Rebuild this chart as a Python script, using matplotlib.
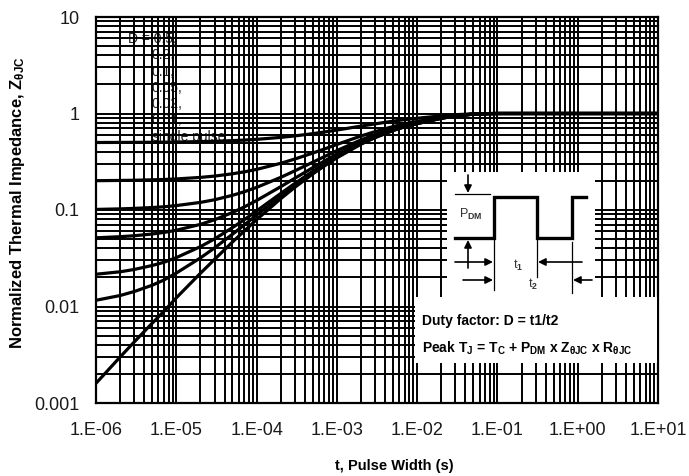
import matplotlib
matplotlib.use("Agg")
import matplotlib.pyplot as plt
from matplotlib.patches import Rectangle
from matplotlib.ticker import LogLocator, NullFormatter

plt.rcParams['font.family'] = ['Liberation Sans', 'DejaVu Sans']
plt.rcParams['mathtext.fontset'] = 'custom'
plt.rcParams['mathtext.rm'] = 'Liberation Sans'
plt.rcParams['mathtext.bf'] = 'Liberation Sans:bold'
plt.rcParams['mathtext.it'] = 'Liberation Sans:italic'
plt.rcParams['mathtext.default'] = 'bf'

# ---- data -------------------------------------------------------------
pulse_width = [1e-6, 2e-6, 3e-6, 5e-6, 7e-6,
               1e-5, 2e-5, 3e-5, 5e-5, 7e-5,
               1e-4, 2e-4, 3e-4, 5e-4, 7e-4,
               1e-3, 2e-3, 3e-3, 5e-3, 7e-3,
               1e-2, 2e-2, 3e-2, 5e-2, 7e-2,
               1e-1, 1e0, 1e1]

z_d050 = [0.5008, 0.5015, 0.5022, 0.5034, 0.5045, 0.5062, 0.511, 0.5154, 0.5233, 0.5302,
          0.5397, 0.5655, 0.586, 0.618, 0.643, 0.6735, 0.7405, 0.781, 0.8325, 0.864,
          0.8925, 0.9455, 0.972, 0.992, 0.9975, 1.0, 1.0, 1.0]
z_d020 = [0.2013, 0.2024, 0.2034, 0.2054, 0.2071, 0.2098, 0.2177, 0.2246, 0.2372, 0.2483,
          0.2635, 0.3048, 0.3376, 0.3888, 0.4288, 0.4776, 0.5848, 0.6496, 0.732, 0.7824,
          0.828, 0.9128, 0.9552, 0.9872, 0.996, 1.0, 1.0, 1.0]
z_d010 = [0.1014, 0.1027, 0.1039, 0.106, 0.108, 0.1111, 0.1199, 0.1277, 0.1419, 0.1544,
          0.1715, 0.2179, 0.2548, 0.3124, 0.3574, 0.4123, 0.5329, 0.6058, 0.6985, 0.7552,
          0.8065, 0.9019, 0.9496, 0.9856, 0.9955, 1.0, 1.0, 1.0]
z_d005 = [0.0515, 0.0529, 0.0541, 0.0564, 0.0585, 0.0617, 0.071, 0.0793, 0.0942, 0.1074,
          0.1254, 0.1745, 0.2134, 0.2742, 0.3217, 0.3797, 0.507, 0.5839, 0.6818, 0.7416,
          0.7958, 0.8965, 0.9468, 0.9848, 0.9953, 1.0, 1.0, 1.0]
z_d002 = [0.0216, 0.0229, 0.0242, 0.0266, 0.0287, 0.0321, 0.0417, 0.0502, 0.0656, 0.0792,
          0.0978, 0.1484, 0.1886, 0.2513, 0.3003, 0.3601, 0.4914, 0.5708, 0.6717, 0.7334,
          0.7893, 0.8932, 0.9451, 0.9843, 0.9951, 1.0, 1.0, 1.0]
z_d001 = [0.0116, 0.013, 0.0143, 0.0166, 0.0188, 0.0222, 0.0319, 0.0405, 0.056, 0.0698,
          0.0886, 0.1397, 0.1803, 0.2436, 0.2931, 0.3535, 0.4862, 0.5664, 0.6684, 0.7307,
          0.7872, 0.8921, 0.9446, 0.9842, 0.9951, 1.0, 1.0, 1.0]
z_single = [0.0016, 0.0030, 0.0043, 0.0067, 0.0089, 0.0123, 0.0221, 0.0308, 0.0465, 0.0604,
            0.0794, 0.131, 0.172, 0.236, 0.286, 0.347, 0.481, 0.562, 0.665, 0.728,
            0.785, 0.891, 0.944, 0.984, 0.995, 1.0, 1.0, 1.0]

curves = [z_d050, z_d020, z_d010, z_d005, z_d002, z_d001, z_single]
duty_labels = ["D = 0.5,", "0.2,", "0.1,", "0.05,", "0.02,", "0.01,", "single pulse"]

x_tick_values = [1e-6, 1e-5, 1e-4, 1e-3, 1e-2, 1e-1, 1e0, 1e1]
x_tick_labels = ["1.E-06", "1.E-05", "1.E-04", "1.E-03", "1.E-02", "1.E-01", "1.E+00", "1.E+01"]
y_tick_values = [1e-3, 1e-2, 1e-1, 1e0, 1e1]
y_tick_labels = ["0.001", "0.01", "0.1", "1", "10"]

# ---- figure -----------------------------------------------------------
W, H = 689, 476
fig = plt.figure(figsize=(W / 100, H / 100), dpi=100)
fig.patch.set_facecolor('white')


def fx(px):
    return px / W


def fy(py):
    return 1 - py / H


ax = fig.add_axes([fx(96), fy(403), (658 - 96) / W, (403 - 17) / H])
ax.set_xscale('log')
ax.set_yscale('log')
ax.set_xlim(1e-6, 1e1)
ax.set_ylim(1e-3, 1e1)

for z in curves:
    ax.plot(pulse_width, z, color='black', lw=2.3, zorder=3,
            solid_joinstyle='round', solid_capstyle='butt')

ax.set_xticks(x_tick_values)
ax.set_xticklabels(x_tick_labels)
ax.set_yticks(y_tick_values)
ax.set_yticklabels(y_tick_labels)
for axis in (ax.xaxis, ax.yaxis):
    axis.set_minor_locator(LogLocator(base=10, subs=range(2, 10), numticks=100))
    axis.set_minor_formatter(NullFormatter())

ax.set_axisbelow(False)
ax.grid(True, which='both', color='black', lw=1.4)
ax.tick_params(which='both', length=0, labelsize=13, colors='#1a1a1a')
ax.tick_params(axis='x', pad=14)
ax.tick_params(axis='y', pad=12)
for sp in ax.spines.values():
    sp.set_color('black')
    sp.set_linewidth(1.6)

# duty-cycle labels, sitting under the grid
label_x = [128, 152, 152, 152, 152, 152, 152]
for i, (lab, lx) in enumerate(zip(duty_labels, label_x)):
    ax.text(fx(lx), fy(39 + 16.3 * i), lab, transform=fig.transFigure,
            fontsize=10, color='#222222', ha='left', va='center', zorder=1)

fig.text(fx(394), fy(466), "t, Pulse Width (s)", fontsize=10.5,
         fontweight='bold', ha='center', va='center')
fig.text(fx(18), fy(203), r"Normalized Thermal Impedance, Z$_{\theta JC}$",
         fontsize=12, fontweight='bold', rotation=90, ha='center', va='center')

# ---- pulse diagram overlay (pixel coordinates) -------------------------
ov = fig.add_axes([0, 0, 1, 1], zorder=5)
ov.set_xlim(0, W)
ov.set_ylim(H, 0)
ov.axis('off')

ov.add_patch(Rectangle((447, 172), 148, 126, fc='white', ec='none'))
ov.add_patch(Rectangle((415, 297), 242, 66, fc='white', ec='none'))

wave_x = [455, 494, 494, 537, 537, 572, 572, 586]
wave_y = [238, 238, 197, 197, 238, 238, 197, 197]
ov.plot(wave_x, wave_y, color='black', lw=2.4, solid_joinstyle='miter')

ov.plot([455, 490], [194, 194], color='black', lw=0.9)
ov.plot([494, 494], [240, 290], color='black', lw=0.9)
ov.plot([537, 537], [240, 277], color='black', lw=0.9)
ov.plot([572, 572], [242, 293], color='black', lw=0.9)

arrow = dict(arrowstyle='-|>', color='black', lw=1.2, mutation_scale=11,
             shrinkA=0, shrinkB=0)
ov.annotate('', xy=(468, 193), xytext=(468, 175), arrowprops=arrow)
ov.annotate('', xy=(468, 240), xytext=(468, 268), arrowprops=arrow)
ov.annotate('', xy=(493, 262), xytext=(455, 262), arrowprops=arrow)
ov.annotate('', xy=(538, 262), xytext=(582, 262), arrowprops=arrow)
ov.annotate('', xy=(493, 280), xytext=(463, 280), arrowprops=arrow)
ov.annotate('', xy=(573, 280), xytext=(592, 280), arrowprops=arrow)

ov.text(459, 214, r"P$_{DM}$", fontsize=9, color='#333333', ha='left', va='center')
ov.text(513, 265, r"t$_1$", fontsize=9, color='#333333', ha='left', va='center')
ov.text(528, 284, r"t$_2$", fontsize=9, color='#333333', ha='left', va='center')

ov.text(422, 321, "Duty factor: D = t1/t2", fontsize=10, fontweight='bold',
        ha='left', va='center')
ov.text(422, 348, r"Peak T$_J$ = T$_C$ + P$_{DM}$ x Z$_{\theta JC}$ x R$_{\theta JC}$",
        fontsize=10, fontweight='bold', ha='left', va='center')

fig.savefig("out.png", dpi=100, facecolor='white')
